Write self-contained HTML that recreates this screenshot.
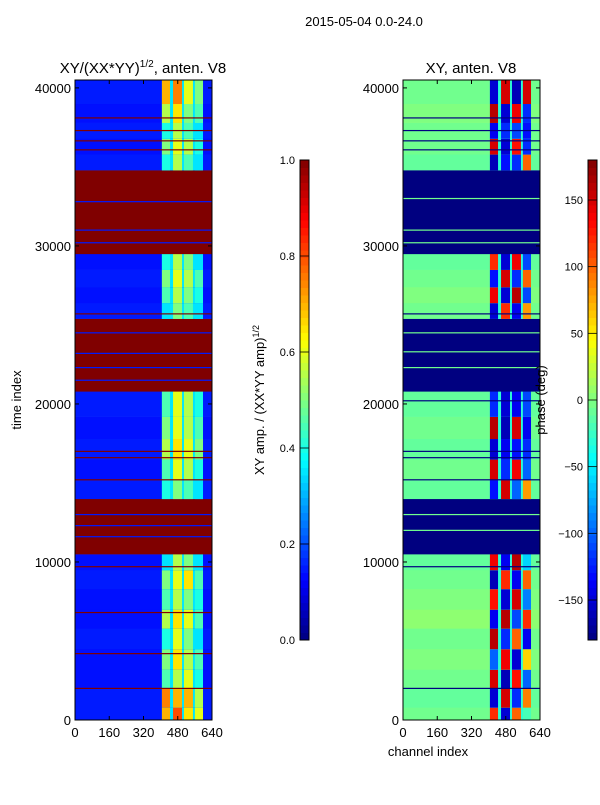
<!DOCTYPE html>
<html><head><meta charset="utf-8"><style>
body{margin:0;background:#fff;width:600px;height:800px;overflow:hidden}
svg text{font-family:"Liberation Sans",sans-serif;fill:#000}
</style></head><body>
<svg id="fig" width="600" height="800" viewBox="0 0 600 800" xmlns="http://www.w3.org/2000/svg">
<text x="364" y="26" font-size="13" text-anchor="middle">2015-05-04 0.0-24.0</text>
<text x="143" y="73" font-size="15" text-anchor="middle">XY/(XX*YY)<tspan font-size="10" dy="-6">1/2</tspan><tspan dy="6">, anten. V8</tspan></text>
<text x="471" y="73" font-size="15" text-anchor="middle">XY, anten. V8</text>
<text transform="translate(21,400) rotate(-90)" font-size="13" text-anchor="middle">time index</text>
<text x="428" y="756" font-size="13" text-anchor="middle">channel index</text>
<g id="left"></g>
<g id="right"></g>
<g id="cb1"></g>
<g id="cb2"></g>
<text transform="translate(264,400) rotate(-90)" font-size="13" text-anchor="middle">XY amp. / (XX*YY amp)<tspan font-size="9" dy="-5">1/2</tspan></text>
<text transform="translate(545,400) rotate(-90)" font-size="13" text-anchor="middle">phase (deg)</text>
</svg>
<script>
const bandStart=[0,800,2000,3200,4500,5800,7000,8300,9500,10500,14000,15200,16500,17800,19200,20800,25400,26400,27400,28500,29500,34800,35800,36800,37800,39000];
const bandEnd=[800,2000,3200,4500,5800,7000,8300,9500,10500,14000,15200,16500,17800,19200,20800,25400,26400,27400,28500,29500,34800,35800,36800,37800,39000,40500];
const ampBase=[0.15,0.15,0.14,0.14,0.15,0.14,0.14,0.15,0.14,1.0,0.15,0.14,0.15,0.14,0.15,1.0,0.15,0.14,0.15,0.14,1.0,0.15,0.14,0.15,0.14,0.15];
const phaseBase=[-5,-10,-5,0,-5,5,0,-5,-10,-180,-10,-5,-10,-5,-10,-180,-5,0,-5,-10,-180,-10,-5,-5,0,-5];
const ampBlocks=[[0.7,0.8,0.65,0.6],[0.75,0.7,0.7,0.55],[0.45,0.55,0.6,0.4],[0.5,0.65,0.55,0.45],[0.4,0.6,0.5,0.35],[0.55,0.65,0.6,0.45],[0.45,0.55,0.5,0.4],[0.5,0.6,0.65,0.45],[0.35,0.55,0.5,0.35],[1,1,1,1],[0.4,0.5,0.45,0.35],[0.45,0.6,0.55,0.4],[0.55,0.65,0.6,0.5],[0.5,0.6,0.55,0.45],[0.45,0.6,0.55,0.4],[1,1,1,1],[0.35,0.5,0.45,0.35],[0.45,0.55,0.5,0.4],[0.5,0.6,0.55,0.45],[0.4,0.55,0.5,0.35],[1,1,1,1],[0.4,0.55,0.45,0.35],[0.5,0.6,0.55,0.4],[0.4,0.55,0.45,0.35],[0.55,0.65,0.5,0.45],[0.7,0.75,0.6,0.5]];
const phaseBlocks=[[120,-150,100,-20],[-150,150,-120,90],[150,-160,130,-100],[-100,140,-150,60],[160,-120,100,-140],[-140,160,-110,120],[130,-150,150,-90],[-160,120,-140,100],[140,-140,160,-60],[-180,-180,-180,-180],[-130,150,-100,80],[150,-120,140,-100],[-150,-140,-130,-120],[160,-160,150,-140],[-120,-150,-140,-110],[-180,-180,-180,-180],[-150,120,-140,80],[140,-150,160,-110],[-130,150,-120,100],[120,-150,140,-110],[-180,-180,-180,-180],[-160,-130,-120,100],[150,-150,130,-120],[-140,-120,-110,-130],[160,-150,140,-120],[-150,150,-160,150]];
const blockStart=[406,458,509,560];
const blockEnd=[444,500,551,598];
const ampRedLines=[38100,37300,36650,36080,25700,17000,16600,15200,9700,6800,4200,2000];
const ampBlueLines=[32800,31000,30200,24500,23200,22300,21500,13000,12300,11600];
const phaseNavyLines=[38100,37300,36650,36080,25700,20200,17000,16600,15200,9700,2000];
const phaseLightLines=[33000,31000,30200,24500,23300,22300,13000,12000];
const xTicks=[0,160,320,480,640];
const yTicks=[0,10000,20000,30000,40000];
const ampTicks=[0,0.2,0.4,0.6,0.8,1.0];
const phaseTicks=[-150,-100,-50,0,50,100,150];
const NS="http://www.w3.org/2000/svg";
function jet(v){v=Math.max(0,Math.min(1,v));
 const f=(x)=>Math.max(0,Math.min(1,1.5-Math.abs(4*v-x)));
 const r=f(3),g=f(2),b=f(1);return `rgb(${Math.round(r*255)},${Math.round(g*255)},${Math.round(b*255)})`;}
const PY0=720,PY1=80,TMAX=40500;
function yS(t){return PY0-(t/TMAX)*(PY0-PY1);}
function mk(p,tag,at){const e=document.createElementNS(NS,tag);for(const k in at)e.setAttribute(k,at[k]);p.appendChild(e);return e;}
function panel(g,x0,base,blocks,norm,redL,blueL,redV,blueV,gapV){
 const W=137;const xS=c=>x0+c/640*W;
 for(let i=0;i<bandStart.length;i++){
  const y1=yS(bandEnd[i]),y0=yS(bandStart[i]);
  const r=mk(g,'rect',{x:x0,y:y1,width:W,height:y0-y1+0.3,fill:jet(norm(base[i]))});
  
  
  if(base[i]!==redV){
   const gp=mk(g,'rect',{x:xS(blockStart[0]),y:y1,width:xS(blockEnd[3])-xS(blockStart[0]),height:y0-y1+0.3,fill:jet(norm(gapV))});
   
   
  }
  for(let j=0;j<4;j++){
   if(blocks[i][j]===redV)continue;
   const c=mk(g,'rect',{x:xS(blockStart[j]),y:y1,width:xS(blockEnd[j])-xS(blockStart[j]),height:y0-y1+0.3,fill:jet(norm(blocks[i][j]))});
   
   
  }
 }
 redL.forEach(t=>{const l=mk(g,'rect',{x:x0,y:yS(t)-0.6,width:W,height:1.2,fill:jet(norm(redV))});
  
  });
 blueL.forEach(t=>{const l=mk(g,'rect',{x:x0,y:yS(t)-0.6,width:W,height:1.2,fill:jet(norm(blueV))});
  
  });
 const fr=mk(g,'rect',{x:x0,y:PY1,width:W,height:PY0-PY1,fill:'none',stroke:'#000','stroke-width':1});
 
 
 xTicks.forEach(c=>{const x=xS(c);
  mk(g,'line',{x1:x,x2:x,y1:PY0,y2:PY0-4,stroke:'#000'});mk(g,'line',{x1:x,x2:x,y1:PY1,y2:PY1+4,stroke:'#000'});
  const t=mk(g,'text',{x:x,y:PY0+17,'font-size':13,'text-anchor':'middle'});t.textContent=c;
  
  });
 yTicks.forEach(v=>{const y=yS(v);
  mk(g,'line',{x1:x0,x2:x0+4,y1:y,y2:y,stroke:'#000'});mk(g,'line',{x1:x0+W,x2:x0+W-4,y1:y,y2:y,stroke:'#000'});
  const t=mk(g,'text',{x:x0-4,y:y+5,'font-size':13,'text-anchor':'end'});t.textContent=v;
  
  });
}
panel(document.getElementById('left'),75,ampBase,ampBlocks,v=>v,ampRedLines,ampBlueLines,1.0,0.15,0.35);
panel(document.getElementById('right'),403,phaseBase,phaseBlocks,v=>(v+180)/360,phaseNavyLines,phaseLightLines,-180,-5,-30);
function cbar(g,x,ticks,norm,fmt){
 const top=160,bot=640,n=64;
 for(let i=0;i<n;i++){const v=(i+0.5)/n;
  const r=mk(g,'rect',{x:x,y:bot-(i+1)*(bot-top)/n,width:9,height:(bot-top)/n+0.5,fill:jet(v)});
  
  }
 mk(g,'rect',{x:x,y:top,width:9,height:bot-top,fill:'none',stroke:'#000'});
 ticks.forEach(v=>{const y=bot-norm(v)*(bot-top);
  mk(g,'line',{x1:x,x2:x+9,y1:y,y2:y,stroke:'#000','stroke-width':0.8});
  const t=mk(g,'text',{x:x-5,y:y+4,'font-size':11,'text-anchor':'end'});t.textContent=fmt(v);
  
  });
}
cbar(document.getElementById('cb1'),300,ampTicks,v=>v,v=>v.toFixed(1));
cbar(document.getElementById('cb2'),588,phaseTicks,v=>(v+180)/360,v=>v<0?'\u2212'+(-v):String(v));
</script>
</body></html>
